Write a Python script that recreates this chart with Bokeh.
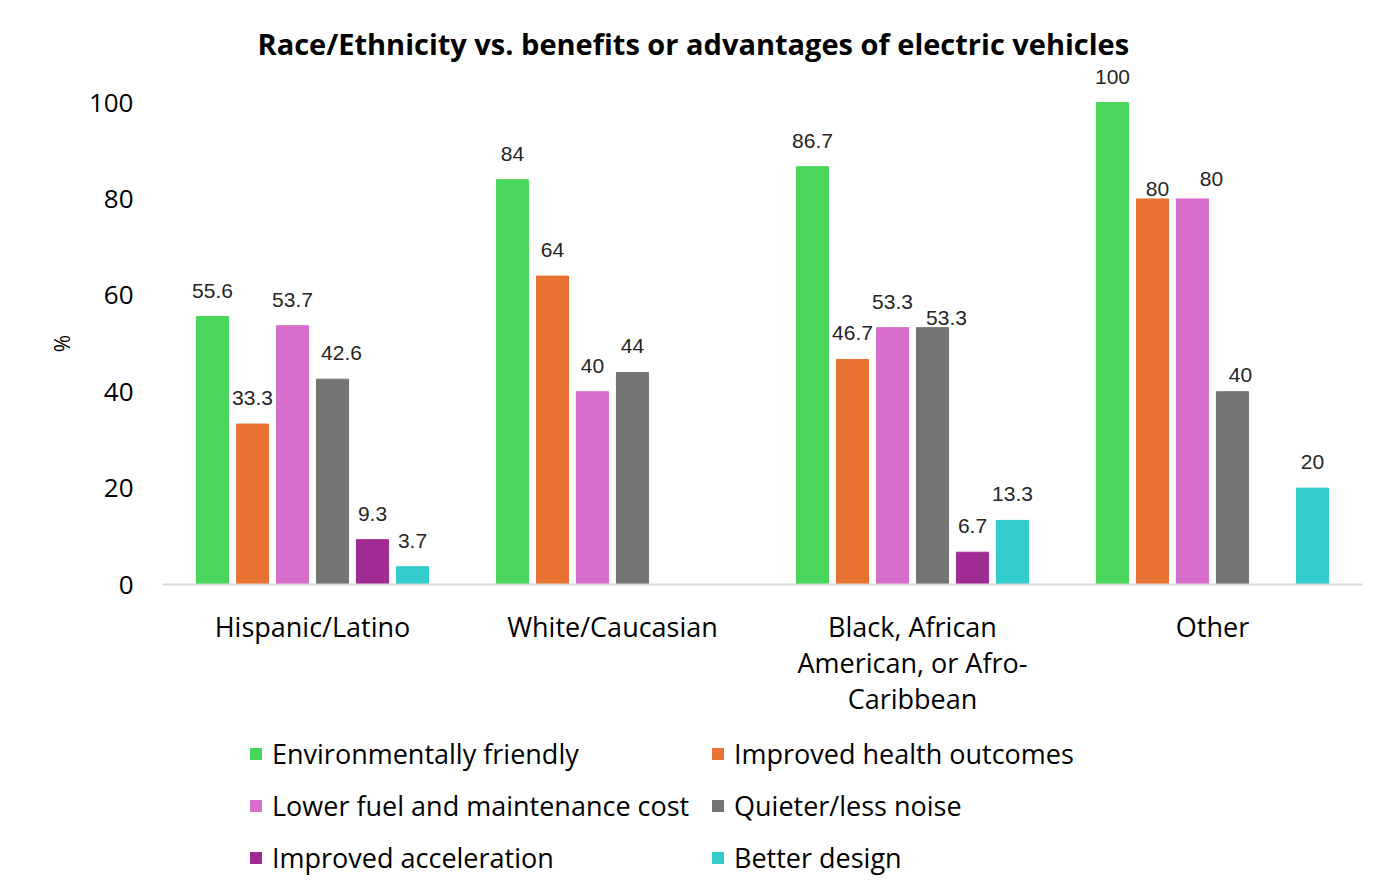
from bokeh.plotting import figure
from bokeh.models import (ColumnDataSource, Range1d, FactorRange, FixedTicker,
                          Legend, LegendItem, LabelSet)
from bokeh.core.properties import value
from bokeh.transform import dodge
from bokeh.layouts import column
from bokeh.embed import file_html
from bokeh.resources import INLINE
import math

# ---------------- data ----------------
categories = ["Hispanic/Latino", "White/Caucasian",
              "Black, African\nAmerican, or Afro-\nCaribbean", "Other"]
series_names = ["Environmentally friendly", "Improved health outcomes",
                "Lower fuel and maintenance cost", "Quieter/less noise",
                "Improved acceleration", "Better design"]
env_friendly = [55.6, 84, 86.7, 100]
health_outcomes = [33.3, 64, 46.7, 80]
lower_cost = [53.7, 40, 53.3, 80]
quieter = [42.6, 44, 53.3, 40]
acceleration = [9.3, float("nan"), 6.7, float("nan")]
better_design = [3.7, float("nan"), 13.3, 20]
y_ticks = [0, 20, 40, 60, 80, 100]

series_values = [env_friendly, health_outcomes, lower_cost, quieter,
                 acceleration, better_design]

# ---------------- style ----------------
colors = ["#4AD65B", "#E97132", "#D86ECC", "#747474", "#A02B93", "#33CCCC"]
offsets = [-1/3, -0.2, -1/15, 1/15, 0.2, 1/3]
bar_w = 0.107
# per-label nudges (screen px) where the original moved labels aside
label_dx = [[0, 0, 0, 0], [0, 0, 0, 5], [0, 0, 0, 19], [9, 0, 14, 8], [0, 0, 0, 0], [0, 0, 0, 0]]
label_dy = [[0, 0, 0, 0], [0, 0, 0, 16], [0, 0, 0, 6], [0, 0, 16, 9], [0, 0, 0, 0], [0, 0, 0, 0]]

FONT = "Open Sans"
NUMFONT = "Liberation Sans"

p = figure(x_range=FactorRange(*categories, range_padding=0),
           y_range=Range1d(0, 107.9),
           width=1366, height=720, output_backend="svg", toolbar_location=None,
           min_border_left=162, min_border_right=4, min_border_top=64,
           min_border_bottom=136,
           title="Race/Ethnicity vs. benefits or advantages of electric vehicles")

p.title.align = "left"
p.title.offset = 95
p.title.text_font = FONT
p.title.text_font_size = "29px"
p.title.text_font_style = "bold"
p.title.text_color = "#000000"
p.title.standoff = 3

p.outline_line_color = None
p.xgrid.grid_line_color = None
p.ygrid.grid_line_color = None

bar_renderers = []
for name, vals, col, off, dxs, dys in zip(series_names, series_values, colors,
                                          offsets, label_dx, label_dy):
    cats, v, txt, dx, dy = [], [], [], [], []
    for c, val, a, b in zip(categories, vals, dxs, dys):
        if val is None or (isinstance(val, float) and math.isnan(val)):
            continue
        cats.append(c)
        v.append(val)
        txt.append(f"{val:g}")
        dx.append(a)
        dy.append(26 - b)
    src = ColumnDataSource(dict(cat=cats, val=v, txt=txt, dx=dx, dy=dy))
    r = p.vbar(x=dodge("cat", off, range=p.x_range), top="val", width=bar_w,
               source=src, fill_color=col, line_color=col)
    bar_renderers.append(r)
    labels = LabelSet(x=dodge("cat", off, range=p.x_range), y="val", text="txt",
                      x_offset="dx", y_offset="dy", source=src,
                      text_align="center", text_baseline="middle",
                      text_font=value(NUMFONT), text_font_size=value("21px"),
                      text_color="#262626")
    p.add_layout(labels)

# y axis
p.yaxis.ticker = FixedTicker(ticks=y_ticks)
p.yaxis.axis_line_color = None
p.yaxis.major_tick_line_color = None
p.yaxis.minor_tick_line_color = None
p.yaxis.major_label_text_font = FONT
p.yaxis.major_label_text_font_size = "26px"
p.yaxis.major_label_text_color = "#000000"
p.yaxis.major_label_standoff = 23
p.yaxis.axis_label = "%" + "\u00a0" * 7
p.yaxis.axis_label_text_font = FONT
p.yaxis.axis_label_text_font_size = "21px"
p.yaxis.axis_label_text_font_style = "normal"
p.yaxis.axis_label_text_color = "#000000"
p.yaxis.axis_label_standoff = 10

# x axis
p.xaxis.axis_line_color = "#D9D9D9"
p.xaxis.axis_line_width = 2
p.xaxis.major_tick_line_color = None
p.xaxis.minor_tick_line_color = None
p.xaxis.major_label_text_font = FONT
p.xaxis.major_label_text_font_size = "27px"
p.xaxis.major_label_text_color = "#000000"
p.xaxis.major_label_text_line_height = 0.98
p.xaxis.major_label_standoff = 17

# legend panel underneath the chart (swatches mirror the bar colours)
lg = figure(width=1366, height=164, x_range=Range1d(0, 1), y_range=Range1d(0, 1),
            output_backend="svg", toolbar_location=None,
            min_border=0, x_axis_type=None, y_axis_type=None)
lg.outline_line_color = None
lg.xgrid.grid_line_color = None
lg.ygrid.grid_line_color = None
items = []
for name, col in zip(series_names, colors):
    # zero-height, borderless bar: only serves as the legend swatch
    r = lg.vbar(x=[0.5], top=[0], bottom=[0], width=0.0, fill_color=col,
                line_alpha=0)
    items.append(LegendItem(label=name, renderers=[r]))
legend = Legend(items=items, ncols=2, orientation="horizontal", location=(86, 8),
                label_text_font=FONT, label_text_font_size="27px",
                label_text_color="#000000",
                glyph_width=15, glyph_height=15, label_standoff=9,
                label_height=32, label_width=423, spacing=15, padding=0, margin=0,
                border_line_color=None, background_fill_alpha=0)
lg.add_layout(legend, "center")

layout = column(p, lg, spacing=0)
open("out.html", "w").write(file_html(layout, INLINE))
